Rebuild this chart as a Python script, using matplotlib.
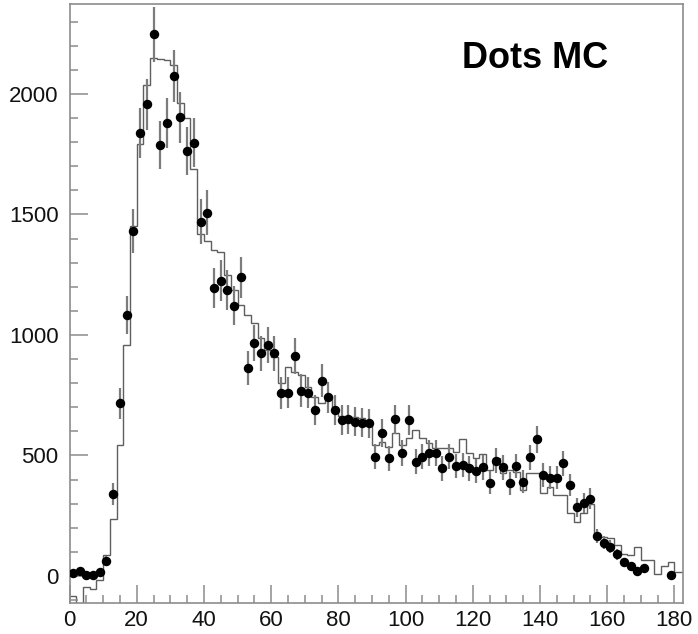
import numpy as np
import matplotlib
matplotlib.use("Agg")
import matplotlib.pyplot as plt
from matplotlib.ticker import MultipleLocator

#---Data (dots): one value per 2-unit bin, bin centres 1, 3, 5, ..., 179
data_counts = [11, 22, 4, 4, 15, 62, 340, 717, 1084, 1433,
               1837, 1957, 2248, 1788, 1878, 2075, 1903, 1763, 1798, 1470,
               1508, 1194, 1225, 1187, 1122, 1239, 864, 968, 924, 958,
               924, 758, 761, 913, 769, 761, 689, 810, 741, 689,
               647, 650, 640, 636, 634, 495, 595, 488, 650, 509,
               647, 474, 495, 509, 509, 447, 495, 456, 460, 447,
               437, 451, 387, 478, 451, 385, 456, 391, 492, 567,
               419, 408, 408, 468, 378, 285, 304, 321, 166, 138,
               122, 91, 58, 41, 21, 32, np.nan, np.nan, np.nan, 3]
data_errors = [8, 11, 5, 5, 9, 19, 45, 64, 79, 91,
               103, 106, 114, 101, 104, 109, 105, 101, 102, 92,
               93, 83, 84, 83, 80, 84, 70, 75, 73, 74,
               73, 66, 66, 73, 67, 66, 63, 68, 65, 63,
               61, 61, 61, 60, 60, 53, 58, 53, 61, 54,
               61, 52, 53, 54, 54, 51, 53, 51, 51, 51,
               50, 51, 47, 52, 51, 47, 51, 47, 53, 57,
               49, 48, 48, 52, 47, 40, 42, 43, 31, 28,
               26, 23, 18, 15, 11, 14, 0, 0, 0, 4]

#---MC histogram: bins 0-2, 2-4, ..., 182-184
mc_counts = [-83, -130, -45, -55, -17, 87, 235, 543, 958, 1452,
             1793, 2037, 2150, 2145, 2140, 2120, 1961, 1899, 1689, 1420,
             1390, 1353, 1346, 1249, 1187, 1124, 1083, 1049, 986, 938,
             910, 800, 866, 848, 834, 786, 744, 716, 745, 690,
             665, 655, 660, 655, 640, 545, 557, 537, 592, 544,
             571, 606, 571, 550, 530, 530, 530, 513, 567, 509,
             490, 506, 440, 488, 426, 440, 433, 357, 426, 426,
             343, 368, 336, 336, 263, 226, 262, 298, 170, 160,
             156, 128, 90, 87, 122, 66, 66, 10, 41, 59,
             18, 18]

bin_width = 2
mc_edges = np.arange(len(mc_counts) + 1) * bin_width
data_centres = np.arange(len(data_counts)) * bin_width + bin_width / 2

plt.rcParams['font.family'] = ['Liberation Sans', 'DejaVu Sans']

fig = plt.figure(figsize=(6.98, 6.34), dpi=100)
ax = fig.add_axes([0.0996, 0.0489, 0.879, 0.9448])

#---MC as a step line:
ax.stairs(mc_counts, mc_edges, color='#5e5e5e', linewidth=1.0, baseline=None)

#---Data dots with error bars:
ax.errorbar(data_centres, data_counts, yerr=data_errors, fmt='o',
            color='black', markersize=5.8, ecolor='#7c7c7c',
            elinewidth=1.6, capsize=0, zorder=3)

ax.set_xlim(0, 182.6)
ax.set_ylim(-112, 2373)

#---ROOT-like axes: ticks inside, bottom and left only
ax.xaxis.set_major_locator(MultipleLocator(20))
ax.xaxis.set_minor_locator(MultipleLocator(5))
ax.yaxis.set_major_locator(MultipleLocator(500))
ax.yaxis.set_minor_locator(MultipleLocator(100))
ax.tick_params(which='both', direction='in', top=False, right=False,
               color='#8c8c8c', width=1.1, labelsize=16, labelcolor='#111111')
ax.tick_params(which='major', length=13)
ax.tick_params(which='minor', length=6)
ax.tick_params(axis='x', pad=5)
ax.tick_params(axis='y', pad=8)
for spine in ax.spines.values():
    spine.set_color('#8c8c8c')
    spine.set_linewidth(1.2)

ax.text(0.64, 0.893, 'Dots MC', transform=ax.transAxes, fontsize=26,
        fontweight='bold', color='black')

fig.savefig('out.png', dpi=100)
